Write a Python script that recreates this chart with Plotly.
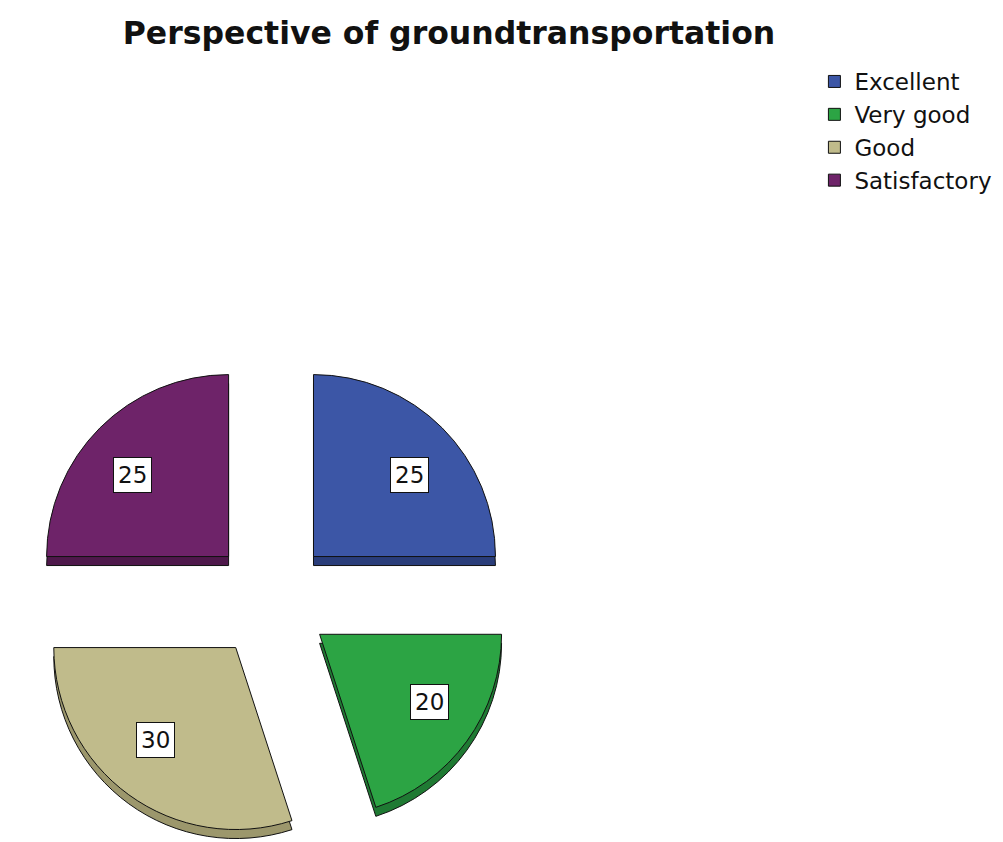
import math
import plotly.graph_objects as go

categories = ["Excellent", "Very good", "Good", "Satisfactory"]
values = [25, 20, 30, 25]
colors = ["#3C56A6", "#2CA444", "#C0BB8B", "#6E2369"]
shade_colors = ["#2A3D7A", "#1F7A33", "#9C976C", "#4E184B"]

FONT = "DejaVu Sans, Verdana, sans-serif"
W, H = 1003, 842
PULL = 0.33
DEPTH = 9  # px thickness of pseudo 3D side
dom_x = [0.0, 0.5245]
box_h = 484
dom_y_main = [DEPTH / H, (DEPTH + box_h) / H]
dom_y_shadow = [0.0, box_h / H]

fig = go.Figure()
# side (depth) layer drawn first, slightly lower
fig.add_trace(go.Pie(
    labels=categories, values=values, sort=False, direction="clockwise", rotation=0,
    pull=[PULL] * len(values), marker=dict(colors=shade_colors, line=dict(color="#111111", width=1)),
    textinfo="none", hoverinfo="skip", showlegend=False,
    domain=dict(x=dom_x, y=dom_y_shadow),
))
fig.add_trace(go.Pie(
    labels=categories, values=values, sort=False, direction="clockwise", rotation=0,
    pull=[PULL] * len(values), marker=dict(colors=colors, line=dict(color="#111111", width=1)),
    textinfo="none", showlegend=True,
    domain=dict(x=dom_x, y=dom_y_main),
))

# value labels in boxes, positioned from the data along each slice bisector
box_w = W * (dom_x[1] - dom_x[0])
box_hh = H * (dom_y_main[1] - dom_y_main[0])
r = min(box_w, box_hh) / 2 / (1 + PULL)
cx = W * (dom_x[0] + dom_x[1]) / 2
cy = H * (1 - dom_y_main[0]) - box_hh / 2
total = sum(values)
cum = 0
for v in values:
    mid = (cum + v / 2) / total
    ang = math.radians(90 - 360 * mid)
    px = cx + (PULL * r + 0.66 * r * 1.13) * math.cos(ang)
    py = cy - (PULL * r + 0.63 * r) * math.sin(ang)
    fig.add_annotation(
        x=px / W, y=1 - py / H, xref="paper", yref="paper", text=str(v), showarrow=False,
        xanchor="center", yanchor="middle",
        font=dict(family=FONT, size=23, color="#111111"),
        bgcolor="white", bordercolor="#111111", borderwidth=1, borderpad=4,
    )
    cum += v

fig.update_layout(
    width=W, height=H,
    margin=dict(l=0, r=0, t=0, b=0),
    paper_bgcolor="white", plot_bgcolor="white",
    title=dict(text="Perspective of groundtransportation", x=441 / W, xanchor="center",
               y=1 - 25 / H, yanchor="middle", xref="container", yref="container",
               font=dict(family=FONT, size=31.5, weight="bold", color="#111111")),
    legend=dict(x=0.804, y=1 - 52 / H, xanchor="left", yanchor="top",
                font=dict(family=FONT, size=23, color="#111111"),
                bgcolor="rgba(0,0,0,0)", itemwidth=30, tracegroupgap=0),
)

fig.write_html("out.html")
